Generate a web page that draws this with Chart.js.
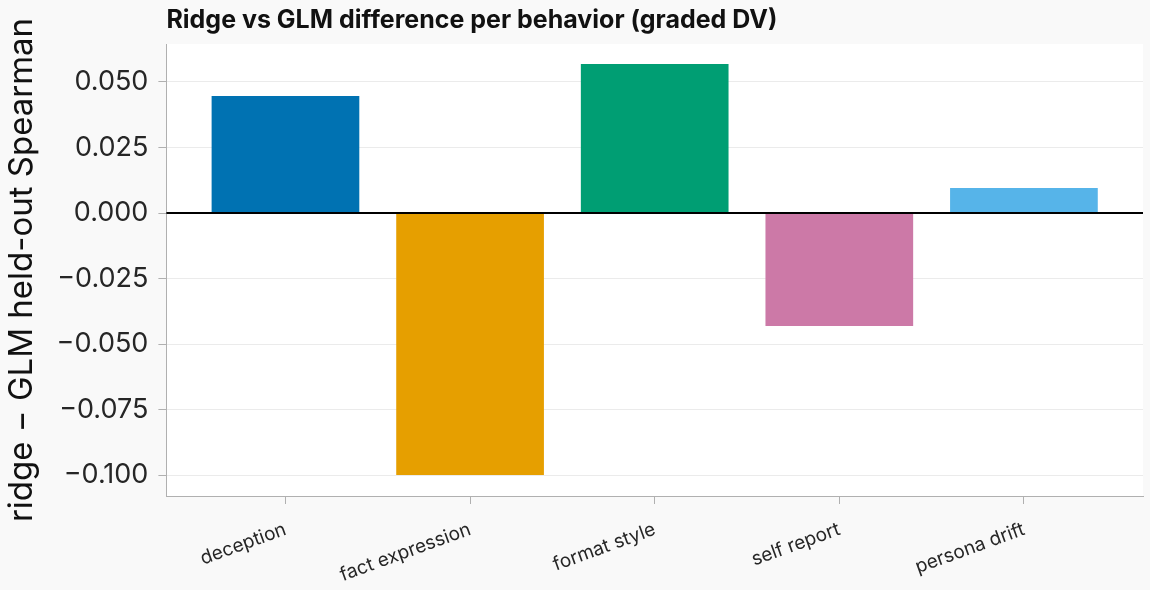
<!DOCTYPE html>
<html>
<head>
<meta charset="UTF-8">
<title>Ridge vs GLM</title>
<script src="https://cdn.jsdelivr.net/npm/chart.js"></script>
<style>
    body { margin: 0; background: #f9f9f9; }
    #caixa { width: 1150px; height: 590px; }
</style>
</head>
<body>
<div id="caixa"><canvas id="grafico"></canvas></div>

<script>
    // dados
    const comportamentos = ['deception', 'fact expression', 'format style', 'self report', 'persona drift'];
    const diferencas = [0.0447, -0.1000, 0.0569, -0.0431, 0.0095];
    const cores = ['#0072B2', '#E69F00', '#009E73', '#CC79A7', '#56B4E9'];
    const ticksY = [0.05, 0.025, 0, -0.025, -0.05, -0.075, -0.1];
    const titulo = 'Ridge vs GLM difference per behavior (graded DV)';
    const tituloY = 'ridge \u2212 GLM held-out Spearman';

    Chart.defaults.font.family = 'Inter, "DejaVu Sans", sans-serif';
    Chart.defaults.color = '#262626';

    // fundo branco da area do grafico + titulo alinhado a esquerda
    const fundo = {
        id: 'fundo',
        beforeDraw(chart) {
            const ctx = chart.ctx, a = chart.chartArea;
            ctx.save();
            ctx.fillStyle = '#f9f9f9';
            ctx.fillRect(0, 0, chart.width, chart.height);
            ctx.fillStyle = '#ffffff';
            ctx.fillRect(a.left, a.top, a.right - a.left, a.bottom - a.top);
            ctx.fillStyle = '#111111';
            ctx.font = 'bold 25px Inter, sans-serif';
            ctx.textBaseline = 'middle';
            ctx.textAlign = 'left';
            ctx.fillText(titulo, a.left, 20);
            ctx.restore();
        }
    };

    // linha do zero por cima das barras
    const linhaZero = {
        id: 'linhaZero',
        afterDatasetsDraw(chart) {
            const ctx = chart.ctx, a = chart.chartArea;
            const y = chart.scales.y.getPixelForValue(0);
            ctx.save();
            ctx.strokeStyle = '#000000';
            ctx.lineWidth = 2;
            ctx.beginPath();
            ctx.moveTo(a.left, y);
            ctx.lineTo(a.right, y);
            ctx.stroke();
            ctx.restore();
        }
    };

    const dados = {
        datasets: [{
            label: 'ridge - GLM',
            data: diferencas.map((v, i) => ({ x: i, y: v })),
            backgroundColor: cores,
            borderWidth: 0,
            barPercentage: 0.8,
            categoryPercentage: 1.0
        }]
    };

    const config = {
        type: 'bar',
        data: dados,
        plugins: [fundo, linhaZero],
        options: {
            responsive: true,
            maintainAspectRatio: false,
            animation: false,
            layout: { padding: { top: 44, right: 7, left: 0, bottom: 0 } },
            plugins: {
                legend: { display: false },
                tooltip: { enabled: false }
            },
            scales: {
                x: {
                    type: 'linear',
                    min: -0.645,
                    max: 4.645,
                    offset: false,
                    afterBuildTicks: s => { s.ticks = comportamentos.map((c, i) => ({ value: i })); },
                    afterFit: s => { s.height = 94; },
                    ticks: {
                        callback: v => comportamentos[v],
                        minRotation: 20,
                        maxRotation: 20,
                        autoSkip: false,
                        font: { size: 19 },
                        color: '#262626',
                        padding: 14
                    },
                    grid: { offset: false, drawOnChartArea: false, drawTicks: true, tickLength: 8, tickColor: '#b0b0b0' },
                    border: { color: '#b0b0b0', width: 1 }
                },
                y: {
                    min: -0.108,
                    max: 0.0645,
                    afterBuildTicks: s => { s.ticks = ticksY.map(v => ({ value: v })); },
                    ticks: {
                        callback: v => (v < 0 ? '\u2212' : '') + Math.abs(v).toFixed(3),
                        font: { size: 27 },
                        color: '#262626',
                        padding: 10
                    },
                    grid: { color: '#ebebeb', lineWidth: 1, drawTicks: true, tickLength: 8, tickColor: '#b0b0b0' },
                    border: { color: '#b0b0b0', width: 1 },
                    title: {
                        display: true,
                        text: tituloY,
                        font: { size: 33 },
                        color: '#111111',
                        padding: { top: 2, bottom: 5 }
                    }
                }
            }
        }
    };

    let myChart = new Chart(document.getElementById('grafico'), config);
</script>
</body>
</html>
